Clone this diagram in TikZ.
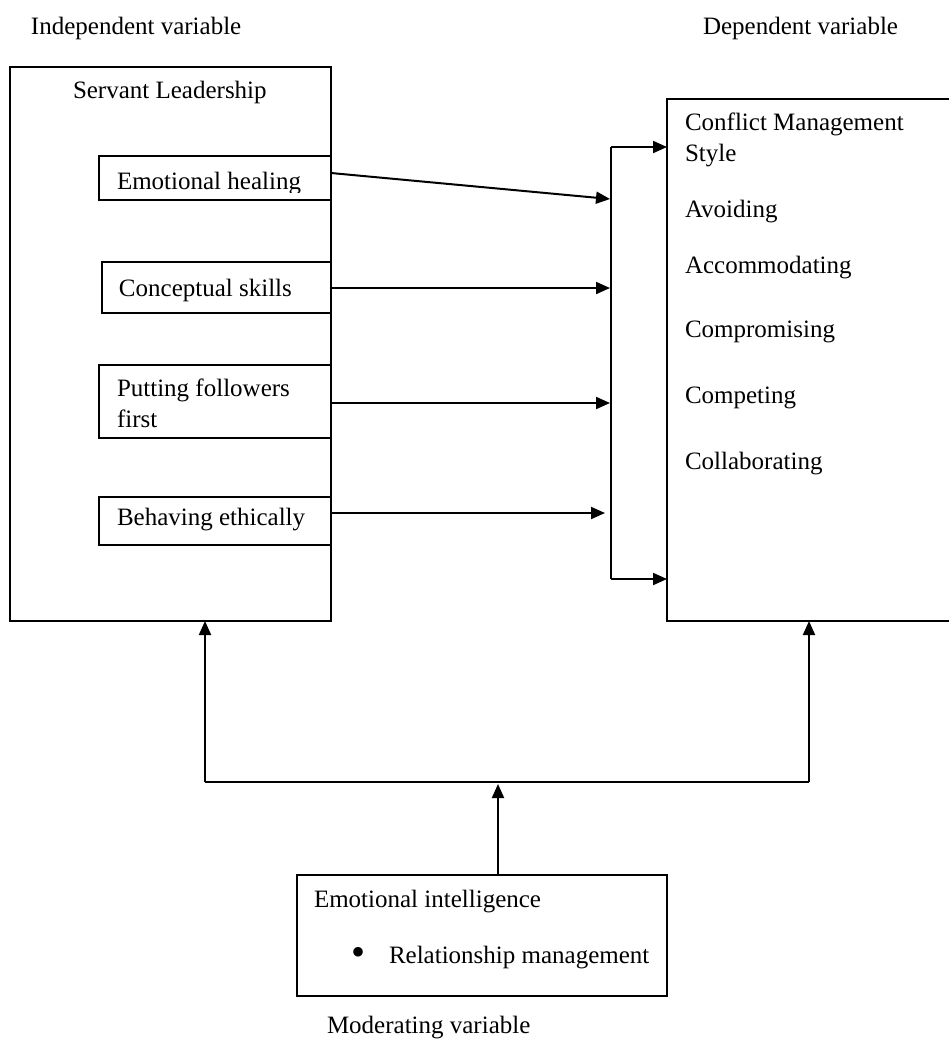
\documentclass[tikz,border=0pt]{standalone}
\usepackage{fontspec}
\setmainfont{Liberation Serif}
\usetikzlibrary{arrows.meta}
\begin{document}
\begin{tikzpicture}[x=0.5pt,y=-0.5pt,
  box/.style={draw,line width=1pt,rectangle,anchor=north west,inner sep=0pt,outer sep=0pt},
  txt/.style={anchor=base west,inner sep=0pt,outer sep=0pt,font=\fontsize{12.5}{15}\selectfont},
  conn/.style={line width=1pt},
  arr/.style={line width=1pt,-{Triangle[length=7pt,width=6pt]}}]
\useasboundingbox (0,0) rectangle (949,1041);

% headings
\node[txt] (hind) at (31,34) {Independent variable};
\node[txt] (hdep) at (703,34) {Dependent variable};
\node[txt] (hmod) at (327,1033) {Moderating variable};

% left box
\node[box,minimum width=160.5pt,minimum height=277pt] (SL) at (10,67) {};
\node[txt] (tSL) at (73,98) {Servant Leadership};
\node[box,minimum width=116pt,minimum height=22pt] (EH) at (99,156) {};
\begin{scope}
\clip (99,150) rectangle (331,192);
\node[txt] (tEH) at (117,189) {Emotional healing};
\end{scope}
\node[box,minimum width=114.5pt,minimum height=25.5pt] (CS) at (102,262) {};
\node[txt] (tCS) at (119,296) {Conceptual skills};
\node[box,minimum width=116pt,minimum height=36.5pt] (PF) at (99,365) {};
\node[txt] (tPF1) at (117,396) {Putting followers};
\node[txt] (tPF2) at (117,427) {first};
\node[box,minimum width=116pt,minimum height=24pt] (BE) at (99,497) {};
\node[txt] (tBE) at (117,525) {Behaving ethically};

% right box
\node[box,minimum width=146pt,minimum height=261pt] (CM) at (667,99) {};
\node[txt] (tCM1) at (685,130) {Conflict Management};
\node[txt] (tCM2) at (685,161) {Style};
\node[txt] (tA1) at (685,217) {Avoiding};
\node[txt] (tA2) at (685,273) {Accommodating};
\node[txt] (tA3) at (685,337) {Compromising};
\node[txt] (tA4) at (685,403) {Competing};
\node[txt] (tA5) at (685,469) {Collaborating};

% bottom box
\node[box,minimum width=185pt,minimum height=60.5pt] (EI) at (297,875) {};
\node[txt] (tEI) at (314,907) {Emotional intelligence};
\node[txt,anchor=center,font=\fontsize{20}{22}\selectfont] (bul) at (358,956) {\textbullet};
\node[txt] (tRM) at (389,963) {Relationship management};

% collector line
\coordinate (vt) at (611,147);
\coordinate (vb) at (611,579);
\coordinate (eh1) at (331,173);
\coordinate (eh2) at (610,199);
\coordinate (cs2) at (610,288);
\coordinate (pf2) at (610,403);
\coordinate (be2) at (605,513);
\draw[arr] (eh1) -- (eh2);
\draw[arr] (CS.east |- cs2) -- (cs2);
\draw[arr] (PF.east |- pf2) -- (pf2);
\draw[arr] (BE.east |- be2) -- (be2);
\draw[conn] (vt) -- (vb);
\draw[arr] (vt) -- (CM.west |- vt);
\draw[arr] (vb) -- (CM.west |- vb);

% moderating connectors
\coordinate (J) at (498,782);
\coordinate (L) at (205,782);
\coordinate (R) at (809,782);
\draw[arr] (EI.north -| J) -- ([yshift=-1pt]J);
\draw[conn] (L) -- (R);
\draw[arr] (L) -- (L |- SL.south);
\draw[arr] (R) -- (R |- CM.south);
\end{tikzpicture}
\end{document}
